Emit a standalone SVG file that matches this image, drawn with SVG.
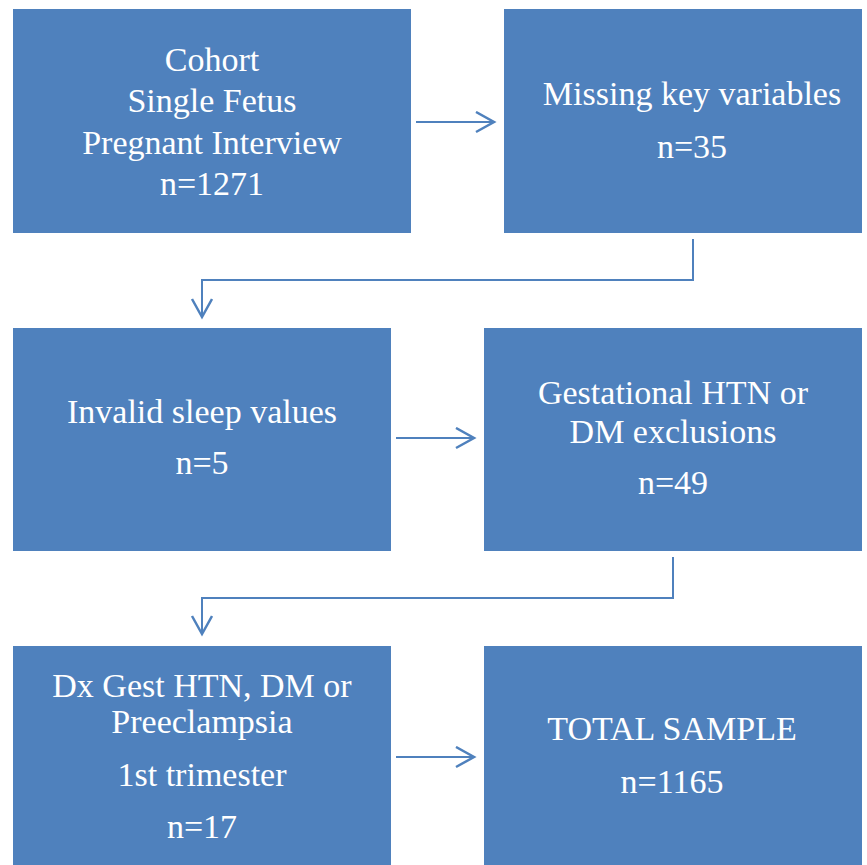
<svg xmlns="http://www.w3.org/2000/svg" width="867" height="865" viewBox="0 0 867 865">
<defs>
<style>
.box{fill:#4F81BD;}
.t{font-family:'Liberation Serif','DejaVu Serif',serif;font-size:34px;fill:#FFFFFF;text-anchor:middle;}
.c{fill:none;stroke:#4F81BD;stroke-width:2;}
</style>
<marker id="ah" markerWidth="22" markerHeight="24" refX="19" refY="11" orient="auto" markerUnits="userSpaceOnUse">
<path d="M1,1 L19,11 L1,21" fill="none" stroke="#4F81BD" stroke-width="2.5"/>
</marker>
</defs>
<rect width="867" height="865" fill="#FFFFFF"/>
<g id="n1"><rect class="box" x="13" y="9" width="398" height="224"/>
<text class="t" font-family="Liberation Serif" x="212" y="71">Cohort</text>
<text class="t" font-family="Liberation Serif" x="212" y="112">Single Fetus</text>
<text class="t" font-family="Liberation Serif" x="212" y="154">Pregnant Interview</text>
<text class="t" font-family="Liberation Serif" x="212" y="195">n=1271</text></g>
<g id="n2"><rect class="box" x="504" y="9" width="358" height="224"/>
<text class="t" font-family="Liberation Serif" x="692" y="105">Missing key variables</text>
<text class="t" font-family="Liberation Serif" x="692" y="158">n=35</text></g>
<g id="n3"><rect class="box" x="13" y="328" width="378" height="223"/>
<text class="t" font-family="Liberation Serif" x="202" y="423">Invalid sleep values</text>
<text class="t" font-family="Liberation Serif" x="202" y="474">n=5</text></g>
<g id="n4"><rect class="box" x="484" y="328" width="378" height="223"/>
<text class="t" font-family="Liberation Serif" x="673" y="404">Gestational HTN or</text>
<text class="t" font-family="Liberation Serif" x="673" y="443">DM exclusions</text>
<text class="t" font-family="Liberation Serif" x="673" y="494">n=49</text></g>
<g id="n5"><rect class="box" x="13" y="646" width="378" height="219"/>
<text class="t" font-family="Liberation Serif" x="202" y="697">Dx Gest HTN, DM or</text>
<text class="t" font-family="Liberation Serif" x="202" y="733">Preeclampsia</text>
<text class="t" font-family="Liberation Serif" x="202" y="786">1st trimester</text>
<text class="t" font-family="Liberation Serif" x="202" y="838">n=17</text></g>
<g id="n6"><rect class="box" x="484" y="646" width="378" height="219"/>
<text class="t" font-family="Liberation Serif" x="672" y="740">TOTAL SAMPLE</text>
<text class="t" font-family="Liberation Serif" x="672" y="793">n=1165</text></g>
<g id="connectors">
<path class="c" d="M416,122 L494,122" marker-end="url(#ah)"/>
<path class="c" d="M693,239 L693,280 L202,280 L202,317" marker-end="url(#ah)"/>
<path class="c" d="M396,438 L474,438" marker-end="url(#ah)"/>
<path class="c" d="M673,557 L673,598 L202,598 L202,634" marker-end="url(#ah)"/>
<path class="c" d="M396,757 L474,757" marker-end="url(#ah)"/>
</g>
</svg>
